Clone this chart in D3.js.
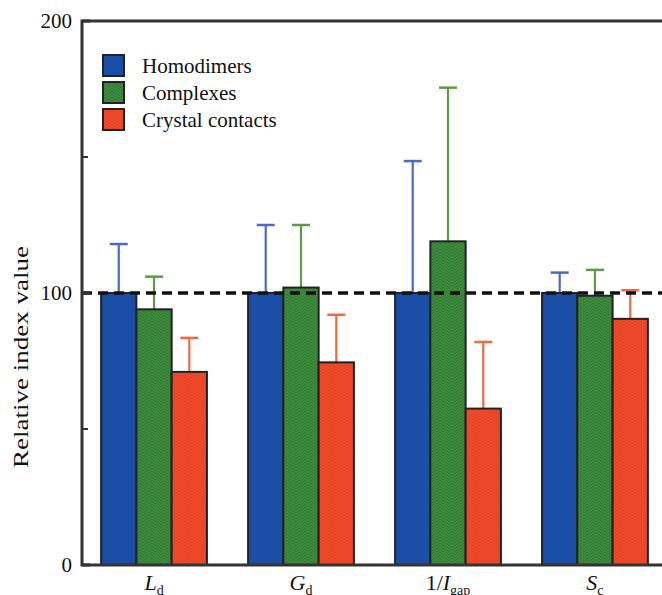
<!DOCTYPE html>
<html>
<head>
<meta charset="utf-8">
<script src="https://cdn.jsdelivr.net/npm/d3@7"></script>
<style>
  body { margin: 0; background: #fff; }
  svg { display: block; font-family: "Liberation Serif", "DejaVu Serif", serif; }
</style>
</head>
<body>
<svg id="chart" width="662" height="595"></svg>
<script>
// data
const categories = ['Ld', 'Gd', '1/Igap', 'Sc'];
const seriesNames = ['Homodimers', 'Complexes', 'Crystal contacts'];
const homodimers = [100, 100, 100, 100];
const complexes = [94, 102, 119, 99];
const crystal = [71, 74.5, 57.5, 90.5];
const homodimersErr = [118, 125, 148.5, 107.5];
const complexesErr = [106, 125, 175.5, 108.5];
const crystalErr = [83.5, 92, 82, 101];
const yTicks = [0, 100, 200];
const yMinorTicks = [50, 150];
const refLine = 100;

const c = {
  width: 662,
  height: 595,
  margin: { left: 82, top: 21, bottom: 30 },
  fill: ['#1a4ea6', '#3d8b3d', '#ef4a2a'],
  errColor: ['#4a68c8', '#5c9a48', '#f06a40'],
  axis: '#333',
};

const svg = d3.select('#chart');
const bottom = c.height - c.margin.bottom;

const values = [homodimers, complexes, crystal];
const errs = [homodimersErr, complexesErr, crystalErr];
const data = categories.map((cat, i) =>
  seriesNames.map((s, j) => ({ cat, series: j, value: values[j][i], err: errs[j][i] }))
);

const x = d3.scaleBand(categories, [c.margin.left, 667]).paddingInner(0.28).paddingOuter(0.13);
const xs = d3.scaleBand(d3.range(seriesNames.length), [0, x.bandwidth()]);
const y = d3.scaleLinear([0, 200], [bottom, c.margin.top]);

// textures for the green and red bars
const defs = svg.append('defs');
function texture(id, base, dark) {
  const p = defs.append('pattern').attr('id', id).attr('patternUnits', 'userSpaceOnUse')
    .attr('width', 6).attr('height', 6);
  p.append('rect').attr('width', 6).attr('height', 6).attr('fill', base);
  p.append('path').attr('d', 'M0,3 L3,0 L6,3 M0,6 L3,3 L6,6')
    .attr('stroke', dark).attr('stroke-width', 0.9).attr('fill', 'none').attr('opacity', 0.6);
}
texture('tex1', c.fill[1], '#2a6a2a');
texture('tex2', c.fill[2], '#d83c22');
const fillFor = (j) => (j === 0 ? c.fill[0] : `url(#tex${j})`);

// error bars (upper whisker only)
const groups = svg.append('g').selectAll('g').data(data).join('g')
  .attr('transform', (d) => `translate(${x(d[0].cat)},0)`);

groups.selectAll('g.err').data((d) => d).join('g').classed('err', true)
  .each(function (d) {
    const g = d3.select(this);
    const cx = xs(d.series) + xs.bandwidth() / 2;
    g.append('line').attr('x1', cx).attr('x2', cx).attr('y1', y(d.value)).attr('y2', y(d.err))
      .attr('stroke', c.errColor[d.series]).attr('stroke-width', 2.2);
    g.append('line').attr('x1', cx - 9).attr('x2', cx + 9).attr('y1', y(d.err)).attr('y2', y(d.err))
      .attr('stroke', c.errColor[d.series]).attr('stroke-width', 2.5);
  });

groups.selectAll('rect').data((d) => d).join('rect')
  .attr('x', (d) => xs(d.series))
  .attr('y', (d) => y(d.value))
  .attr('width', xs.bandwidth())
  .attr('height', (d) => y(0) - y(d.value))
  .attr('fill', (d) => fillFor(d.series))
  .attr('stroke', '#222')
  .attr('stroke-width', 2);

// dashed reference line
svg.append('line')
  .attr('x1', c.margin.left).attr('x2', c.width)
  .attr('y1', y(refLine)).attr('y2', y(refLine))
  .attr('stroke', '#111').attr('stroke-width', 3.5).attr('stroke-dasharray', '10,6');

// frame: left axis, top line, bottom axis
svg.append('path')
  .attr('d', `M${c.width},${y(200)}H${c.margin.left}V${y(0)}H${c.width}`)
  .attr('fill', 'none').attr('stroke', c.axis).attr('stroke-width', 3);

const yAxis = svg.append('g').attr('transform', `translate(${c.margin.left},0)`);
yAxis.selectAll('line.major').data(yTicks).join('line').classed('major', true)
  .attr('x1', 0).attr('x2', 8).attr('y1', (d) => y(d)).attr('y2', (d) => y(d))
  .attr('stroke', c.axis).attr('stroke-width', 3);
yAxis.selectAll('line.minor').data(yMinorTicks).join('line').classed('minor', true)
  .attr('x1', 0).attr('x2', 6).attr('y1', (d) => y(d)).attr('y2', (d) => y(d))
  .attr('stroke', c.axis).attr('stroke-width', 2);
yAxis.selectAll('text').data(yTicks).join('text')
  .attr('x', -10).attr('y', (d) => y(d)).attr('dy', '0.35em')
  .attr('text-anchor', 'end').attr('font-size', 21).attr('fill', '#111')
  .text((d) => d);

svg.append('text')
  .attr('transform', `translate(28,${357}) rotate(-90)`)
  .attr('text-anchor', 'middle').attr('font-size', 21).attr('fill', '#111')
  .attr('textLength', 222).attr('lengthAdjust', 'spacingAndGlyphs')
  .text('Relative index value');

// x labels with italic symbols and subscripts
const xLabels = [
  [{ t: 'L', i: true }, { t: 'd', sub: true }],
  [{ t: 'G', i: true }, { t: 'd', sub: true }],
  [{ t: '1/' }, { t: 'I', i: true }, { t: 'gap', sub: true }],
  [{ t: 'S', i: true }, { t: 'c', sub: true }],
];
svg.append('g').selectAll('text').data(categories).join('text')
  .attr('x', (d) => x(d) + x.bandwidth() / 2)
  .attr('y', 590)
  .attr('text-anchor', 'middle').attr('font-size', 22).attr('fill', '#111')
  .each(function (d, i) {
    const t = d3.select(this);
    xLabels[i].forEach((p) => {
      const s = t.append('tspan').text(p.t);
      if (p.i) s.attr('font-style', 'italic');
      if (p.sub) s.attr('font-size', 14).attr('dy', 5);
    });
  });

// legend
const legend = svg.append('g').attr('transform', 'translate(103,55)');
const items = legend.selectAll('g').data(seriesNames).join('g')
  .attr('transform', (d, i) => `translate(0,${i * 27})`);
items.append('rect').attr('width', 21).attr('height', 21)
  .attr('fill', (d, i) => fillFor(i)).attr('stroke', '#222').attr('stroke-width', 2);
items.append('text').attr('x', 39).attr('y', 18).attr('font-size', 21).attr('fill', '#111')
  .text((d) => d);
</script>
</body>
</html>
